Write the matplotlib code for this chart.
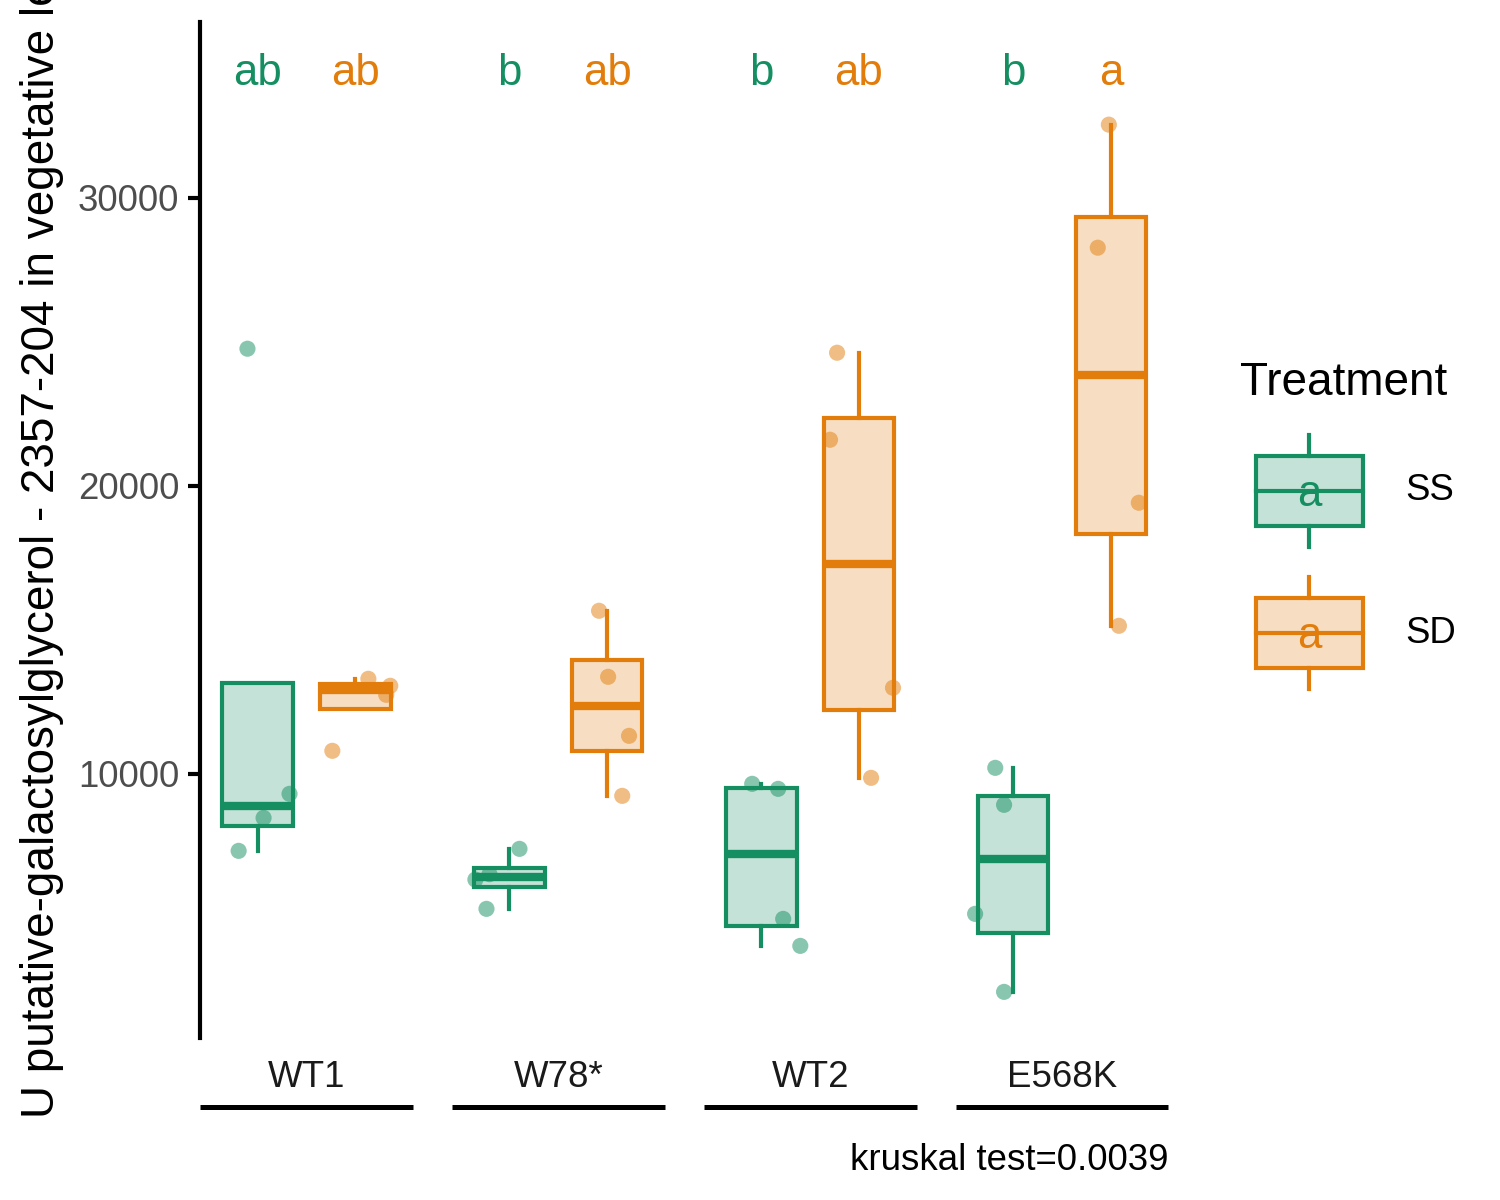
import numpy as np
import matplotlib.pyplot as plt
from matplotlib.legend_handler import HandlerBase
from matplotlib.patches import Patch, Rectangle
from matplotlib.lines import Line2D
from matplotlib.text import Text
from matplotlib.colors import to_rgba

plt.rcParams['font.family'] = ['Liberation Sans', 'DejaVu Sans']

genotypes = ['WT1', 'W78*', 'WT2', 'E568K']
treatments = ['SS', 'SD']

# values, one list per genotype
ss_values = [[24757, 8472, 9306, 7326],
             [5313, 6330, 6516, 7396],
             [4028, 4965, 9479, 9653],
             [2431, 5139, 8924, 10208]]
sd_values = [[10799, 12743, 13056, 13299],
             [9236, 11319, 13368, 15660],
             [9861, 12986, 21597, 24618],
             [15139, 19410, 28264, 32535]]

# horizontal jitter of each point (fraction of the genotype spacing)
ss_jitter = [[-0.040, 0.024, 0.127, -0.075],
             [-0.091, -0.135, -0.079, 0.040],
             [0.155, 0.087, 0.067, -0.036],
             [-0.036, -0.151, -0.036, -0.071]]
sd_jitter = [[-0.091, 0.123, 0.139, 0.052],
             [0.060, 0.087, 0.004, -0.032],
             [0.048, 0.135, -0.115, -0.087],
             [0.032, 0.111, -0.052, -0.008]]

ss_letters = ['ab', 'b', 'b', 'b']
sd_letters = ['ab', 'ab', 'ab', 'a']
letter_y = 34300
kruskal_p = 0.0039

ylabel = 'U putative-galactosylglycerol - 2357-204 in vegetative leaf'

green = '#158F62'
orange = '#E27D0C'


class BoxKey(HandlerBase):
    """legend key that looks like a small boxplot with the letter on it"""
    def create_artists(self, legend, orig_handle, xdescent, ydescent,
                       width, height, fontsize, trans):
        ec = orig_handle.get_edgecolor()
        fc = orig_handle.get_facecolor()
        x0, y0 = -xdescent, -ydescent
        bx0, bx1 = x0 + 0.12 * width, x0 + 0.93 * width
        xm = (bx0 + bx1) / 2
        by0, by1 = y0 + 0.19 * height, y0 + 0.81 * height
        ym = y0 + 0.5 * height
        box = Rectangle((bx0, by0), bx1 - bx0, by1 - by0, facecolor=fc,
                        edgecolor=ec, lw=1, transform=trans)
        med = Line2D([bx0, bx1], [ym, ym], color=ec, lw=1, transform=trans)
        w_lo = Line2D([xm, xm], [y0, by0], color=ec, lw=1, transform=trans)
        w_hi = Line2D([xm, xm], [by1, y0 + height], color=ec, lw=1, transform=trans)
        txt = Text(xm, ym - 0.03 * height, 'a', color=ec, fontsize=10.5, ha='center',
                   va='center', transform=trans)
        return [box, med, w_lo, w_hi, txt]


fig = plt.figure(figsize=(5, 4), dpi=300)
ax = fig.add_axes([0.1333, 0.135, 0.646, 0.8467])

dodge = 0.194
box_w = 0.28
x = np.arange(len(genotypes))

for vals, jit, letters, col, shift in [(ss_values, ss_jitter, ss_letters, green, -dodge),
                                       (sd_values, sd_jitter, sd_letters, orange, dodge)]:
    pos = x + shift
    ax.boxplot(vals, positions=pos, widths=box_w, patch_artist=True,
               showfliers=False, showcaps=False, whis=1.5, manage_ticks=False,
               boxprops=dict(facecolor=to_rgba(col, 0.25), edgecolor=col, linewidth=1),
               whiskerprops=dict(color=col, linewidth=1),
               medianprops=dict(color=col, linewidth=2, solid_capstyle='butt'))
    for p, v, j in zip(pos, vals, jit):
        ax.scatter(p + np.array(j), v, s=15, color=col, alpha=0.5,
                   edgecolors='none', zorder=3)
    for p, lt in zip(pos, letters):
        ax.text(p, letter_y, lt, color=col, fontsize=10.5, ha='center', va='center')

ax.set_xlim(-0.4226, 3.4246)
ax.set_ylim(830, 36100)
ax.set_yticks([10000, 20000, 30000])
ax.set_xticks([])
for s in ['top', 'right', 'bottom']:
    ax.spines[s].set_visible(False)
ax.spines['left'].set_linewidth(1)
ax.tick_params(axis='y', length=3, width=1, pad=2, labelsize=8.8, labelcolor='#4D4D4D')

# genotype labels with a line under each one
xt = ax.get_xaxis_transform()
for i, g in enumerate(genotypes):
    ax.text(i, -0.039, g, transform=xt, ha='center', va='center',
            fontsize=8.8, color='#1A1A1A')
    ax.plot([i - 0.4226, i + 0.4226], [-0.068, -0.068], transform=xt,
            color='black', lw=1.2, clip_on=False, solid_capstyle='butt')

fig.text(0.028, 0.558, ylabel, rotation=90, ha='center', va='center', fontsize=11)
fig.text(0.7793, 0.033, f'kruskal test={kruskal_p}', ha='right', va='center', fontsize=8.8)

handles = [Patch(facecolor=to_rgba(green, 0.25), edgecolor=green),
           Patch(facecolor=to_rgba(orange, 0.25), edgecolor=orange)]
leg = fig.legend(handles, treatments, handler_map={Patch: BoxKey()},
                 loc='center left', bbox_to_anchor=(0.8267, 0.5625),
                 frameon=False, fontsize=8.8, title='Treatment', title_fontsize=11,
                 alignment='left', handlelength=3.6, handleheight=4.33,
                 labelspacing=0.82, handletextpad=0.9, borderpad=0, borderaxespad=0)

fig.savefig('out.png', dpi=300)
